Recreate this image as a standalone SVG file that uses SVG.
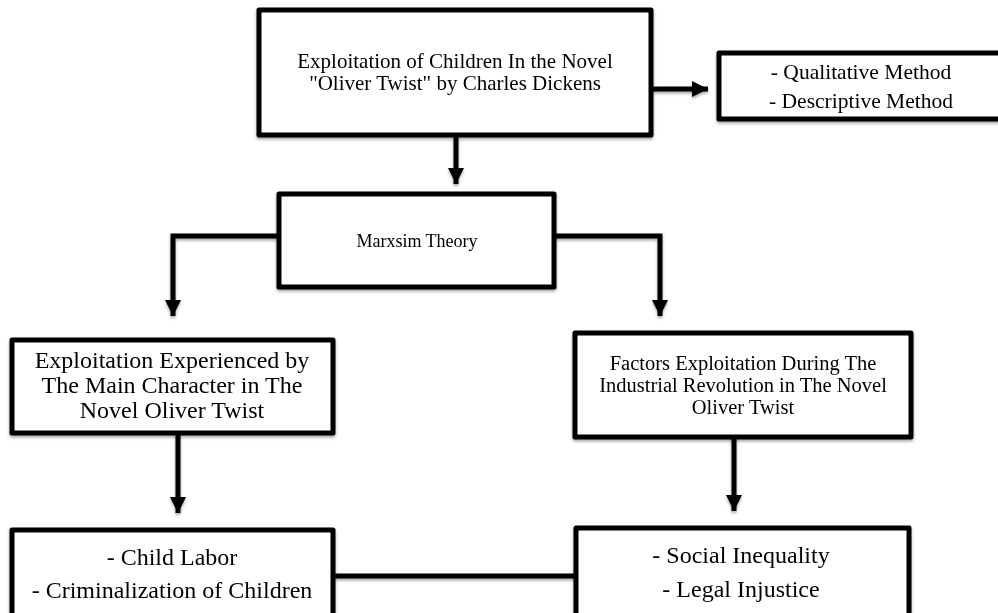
<svg xmlns="http://www.w3.org/2000/svg" width="998" height="613" viewBox="0 0 998 613">
<style>
.box{fill:#fff;stroke:#000;stroke-width:5;stroke-linejoin:round}
.ln{fill:none;stroke:#000;stroke-width:5}
text{font-family:"Liberation Serif","Times New Roman",serif;fill:#000;text-anchor:middle}
.f21{font-size:21px}
.f20{font-size:20.5px}
.f18{font-size:18px}
.f24{font-size:24px}
</style>
<defs>
<filter id="sh" x="-10%" y="-10%" width="120%" height="130%">
<feDropShadow dx="0" dy="2" stdDeviation="1.5" flood-color="#000" flood-opacity="0.35"/>
</filter>
<marker id="ah" markerUnits="userSpaceOnUse" markerWidth="16" markerHeight="16" viewBox="0 0 16 16" refX="16" refY="8" orient="auto">
<path d="M0,0 L16,8 L0,16 Z" fill="#000"/>
</marker>
</defs>
<g id="connectors" filter="url(#sh)">
<line class="ln" x1="652" y1="89" x2="708" y2="89" marker-end="url(#ah)"/>
<line class="ln" x1="456" y1="135" x2="456" y2="184" marker-end="url(#ah)"/>
<polyline class="ln" points="279,236 173,236 173,316" marker-end="url(#ah)"/>
<polyline class="ln" points="554,236 660,236 660,316" marker-end="url(#ah)"/>
<line class="ln" x1="178" y1="433" x2="178" y2="513" marker-end="url(#ah)"/>
<line class="ln" x1="734" y1="437" x2="734" y2="511" marker-end="url(#ah)"/>
<line class="ln" x1="333" y1="576" x2="576" y2="576"/>
</g>
<g id="n-main" filter="url(#sh)">
<rect class="box" x="259" y="10" width="392" height="125"/>
<text class="f21" x="455" y="68">Exploitation of Children In the Novel</text>
<text class="f21" x="455" y="90">"Oliver Twist" by Charles Dickens</text>
</g>
<g id="n-method" filter="url(#sh)">
<rect class="box" x="719" y="53" width="300" height="66"/>
<text x="861" y="79" style="font-size:21.5px">- Qualitative Method</text>
<text x="861" y="108" style="font-size:21.5px">- Descriptive Method</text>
</g>
<g id="n-theory" filter="url(#sh)">
<rect class="box" x="279" y="194" width="275" height="93"/>
<text class="f18" x="417" y="247">Marxsim Theory</text>
</g>
<g id="n-left" filter="url(#sh)">
<rect class="box" x="12" y="340" width="321" height="93"/>
<text class="f24" x="172" y="368">Exploitation Experienced by</text>
<text class="f24" x="172" y="393">The Main Character in The</text>
<text class="f24" x="172" y="418">Novel Oliver Twist</text>
</g>
<g id="n-right" filter="url(#sh)">
<rect class="box" x="575" y="333" width="336" height="104"/>
<text class="f20" x="743" y="370">Factors Exploitation During The</text>
<text class="f20" x="743" y="392">Industrial Revolution in The Novel</text>
<text class="f20" x="743" y="414">Oliver Twist</text>
</g>
<g id="n-left-bottom" filter="url(#sh)">
<rect class="box" x="12" y="530" width="321" height="110"/>
<text class="f24" x="172" y="565">- Child Labor</text>
<text class="f24" x="172" y="598">- Criminalization of Children</text>
</g>
<g id="n-right-bottom" filter="url(#sh)">
<rect class="box" x="576" y="528" width="333" height="110"/>
<text class="f24" x="741" y="563">- Social Inequality</text>
<text class="f24" x="741" y="597">- Legal Injustice</text>
</g>
</svg>
